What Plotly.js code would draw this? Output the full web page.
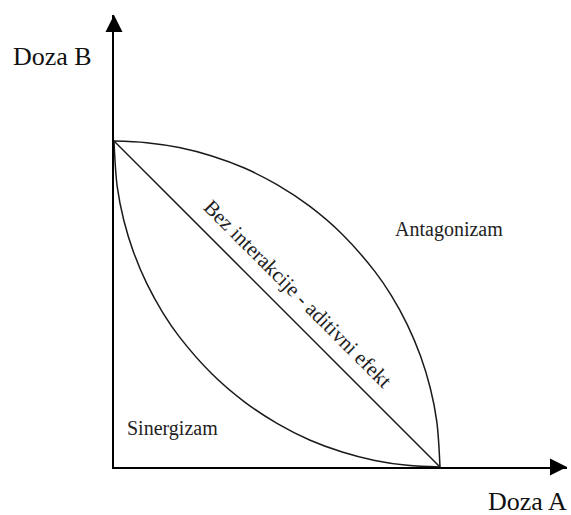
<!DOCTYPE html>
<html>
<head>
<meta charset="utf-8">
<script src="https://cdn.plot.ly/plotly-3.0.1.min.js"></script>
<style>
  html, body { margin: 0; padding: 0; background: #fff; }
  #chart { width: 571px; height: 515px; }
</style>
</head>
<body>
<div id="chart"></div>
<script>
// isobologram - dose A vs dose B (normalised doses)

// additive line (no interaction)
var doseA_additive = [0, 1];
var doseB_additive = [1, 0];

// antagonism curve (bulges outward)
var doseA_antag = [0, 0.1, 0.2, 0.3, 0.4, 0.5, 0.6, 0.7, 0.8, 0.85, 0.9, 0.94, 0.97, 0.99, 1];
var doseB_antag = [1, 0.995, 0.98, 0.954, 0.917, 0.866, 0.8, 0.714, 0.6, 0.527, 0.436, 0.341, 0.243, 0.141, 0];

// synergism curve (bulges inward)
var doseA_syn = [0, 0.01, 0.03, 0.06, 0.1, 0.15, 0.2, 0.3, 0.4, 0.5, 0.6, 0.7, 0.8, 0.9, 1];
var doseB_syn = [1, 0.859, 0.757, 0.659, 0.564, 0.473, 0.4, 0.286, 0.2, 0.134, 0.083, 0.046, 0.02, 0.005, 0];

// labels
var axisLabelA = "Doza A";
var axisLabelB = "Doza B";
var regionLabels = ["Sinergizam", "Antagonizam", "Bez interakcije - aditivni efekt"];

var xMax = 1.3896;
var yMax = 1.3865;

var curveLine = { color: '#1a1a1a', width: 1.5 };
var serif = "'Liberation Serif', 'Times New Roman', serif";

var traces = [
    { x: doseA_additive, y: doseB_additive, mode: 'lines', line: curveLine, hoverinfo: 'skip' },
    { x: doseA_antag, y: doseB_antag, mode: 'lines', line: { color: curveLine.color, width: curveLine.width, shape: 'spline' }, hoverinfo: 'skip' },
    { x: doseA_syn, y: doseB_syn, mode: 'lines', line: { color: curveLine.color, width: curveLine.width, shape: 'spline' }, hoverinfo: 'skip' },
    // arrow heads at the ends of the axes
    {
        x: [xMax, 0], y: [0, yMax], mode: 'markers', cliponaxis: false, hoverinfo: 'skip',
        marker: { symbol: ['arrow-right', 'arrow-up'], size: 17, color: '#000', line: { width: 0 } }
    }
];

var layout = {
    width: 571,
    height: 515,
    margin: { l: 114, r: 4, t: 15, b: 48 },
    paper_bgcolor: '#fff',
    plot_bgcolor: '#fff',
    showlegend: false,
    xaxis: {
        range: [0, xMax], showgrid: false, zeroline: false, showticklabels: false, ticks: '',
        showline: true, linecolor: '#000', linewidth: 2
    },
    yaxis: {
        range: [0, yMax], showgrid: false, zeroline: false, showticklabels: false, ticks: '',
        showline: true, linecolor: '#000', linewidth: 2
    },
    annotations: [
        { xref: 'paper', yref: 'paper', x: -0.1358, y: 0.9082, text: axisLabelB, showarrow: false,
          xanchor: 'center', yanchor: 'middle', font: { family: serif, size: 26, color: '#111' } },
        { xref: 'paper', yref: 'paper', x: 0.9117, y: -0.0774, text: axisLabelA, showarrow: false,
          xanchor: 'center', yanchor: 'middle', font: { family: serif, size: 26, color: '#111' } },
        { xref: 'x', yref: 'y', x: 0.178, y: 0.118, text: regionLabels[0], showarrow: false,
          xanchor: 'center', yanchor: 'middle', font: { family: serif, size: 20, color: '#222' } },
        { xref: 'x', yref: 'y', x: 1.0276, y: 0.7285, text: regionLabels[1], showarrow: false,
          xanchor: 'center', yanchor: 'middle', font: { family: serif, size: 20, color: '#222' } },
        { xref: 'x', yref: 'y', x: 0.564, y: 0.531, text: regionLabels[2], showarrow: false, textangle: 45,
          xanchor: 'center', yanchor: 'middle', font: { family: serif, size: 21, color: '#222' } }
    ]
};

Plotly.newPlot('chart', traces, layout, { displayModeBar: false, staticPlot: true });
</script>
</body>
</html>
